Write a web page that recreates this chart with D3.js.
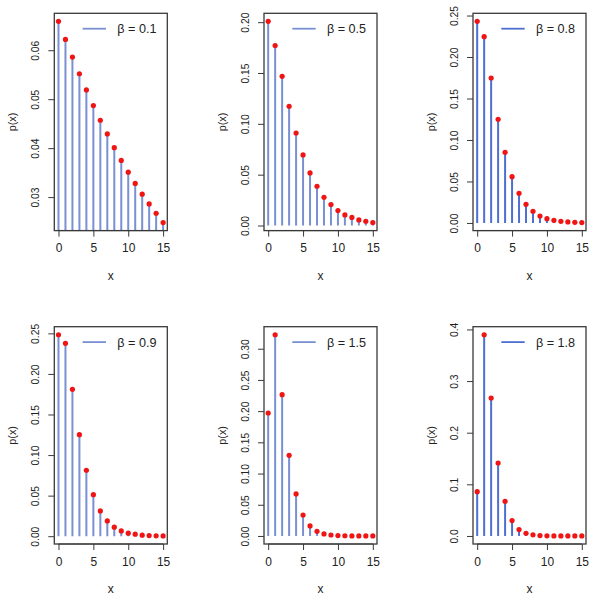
<!DOCTYPE html>
<html><head><meta charset="utf-8">
<script src="https://cdn.jsdelivr.net/npm/d3@7"></script>
<style>body{margin:0;background:#fff}svg{display:block}text{font-family:"Liberation Sans",Arial,Helvetica,sans-serif;fill:#222}</style>
</head><body>
<script>
const xValues = [0,1,2,3,4,5,6,7,8,9,10,11,12,13,14,15];
const xTicks = [0,5,10,15];
const betas = ["0.1","0.5","0.8","0.9","1.5","1.8"];
const p01 = [0.0659,0.0622,0.0586,0.0552,0.0519,0.0487,0.0457,0.0429,0.0401,0.0375,0.0351,0.0328,0.0306,0.0286,0.0267,0.0248];
const p05 = [0.2008,0.1770,0.1467,0.1172,0.0910,0.0694,0.0517,0.0386,0.0278,0.0206,0.0147,0.0104,0.0079,0.0055,0.0042,0.0029];
const p08 = [0.2430,0.2245,0.1747,0.1250,0.0852,0.0558,0.0358,0.0225,0.0141,0.0084,0.0052,0.0032,0.0020,0.0012,0.0008,0.0005];
const p09 = [0.2483,0.2377,0.1810,0.1251,0.0813,0.0512,0.0312,0.0188,0.0111,0.0065,0.0037,0.0025,0.0012,0.0008,0.0004,0.0003];
const p15 = [0.1970,0.3224,0.2263,0.1292,0.0673,0.0336,0.0160,0.0075,0.0032,0.0015,0.0006,0.0003,0.0001,0.00005,0.00002,0.00001];
const p18 = [0.0858,0.3897,0.2670,0.1413,0.0671,0.0297,0.0123,0.0052,0.0021,0.0008,0.0003,0.0001,0.00005,0.00002,0.00001,0.000005];
const yTicks1 = [0.03,0.04,0.05,0.06];
const yTicks2 = [0,0.05,0.10,0.15,0.20];
const yTicks3 = [0,0.05,0.10,0.15,0.20,0.25];
const yTicks4 = [0,0.05,0.10,0.15,0.20,0.25];
const yTicks5 = [0,0.05,0.10,0.15,0.20,0.25,0.30];
const yTicks6 = [0,0.1,0.2,0.3,0.4];
const yFormats = [".2f",".2f",".2f",".2f",".2f",".1f"];

const series = [p01,p05,p08,p09,p15,p18];
const tickSets = [yTicks1,yTicks2,yTicks3,yTicks4,yTicks5,yTicks6];
const stemColors = ["#7990d2","#7990d2","#4d6fd3","#7990d2","#7990d2","#4d6fd3"];

const W = 593, H = 600;
const svg = d3.select("body").append("svg").attr("width",W).attr("height",H);
const colLeft = [54.3,264,473];
const rowTop = [13.3,326.7];
const pw = 113, ph = 217.3;

series.forEach((vals,i)=>{
  const col = i%3, row = Math.floor(i/3);
  const L = colLeft[col], T = rowTop[row];
  const g = svg.append("g").attr("transform",`translate(${L},${T})`);
  const x = d3.scaleLinear().domain([-0.6,15.6]).range([0,pw]);
  const ext = d3.extent(vals), pad = (ext[1]-ext[0])*0.04;
  const y = d3.scaleLinear().domain([ext[0]-pad, ext[1]+pad]).range([ph,0]);
  const clipId = "clip"+i;
  g.append("clipPath").attr("id",clipId).append("rect").attr("width",pw).attr("height",ph);
  const plot = g.append("g").attr("clip-path",`url(#${clipId})`);
  plot.selectAll("line.stem").data(vals).join("line")
    .attr("x1",(d,j)=>x(xValues[j])).attr("x2",(d,j)=>x(xValues[j]))
    .attr("y1",y(0)).attr("y2",d=>y(d))
    .attr("stroke",stemColors[i]).attr("stroke-width",2);
  plot.selectAll("circle").data(vals).join("circle")
    .attr("cx",(d,j)=>x(xValues[j])).attr("cy",d=>y(d)).attr("r",2.6)
    .attr("fill","#f01515");
  // box
  g.append("rect").attr("width",pw).attr("height",ph).attr("fill","none")
    .attr("stroke","#3a3a3a").attr("stroke-width",1.3);
  // x axis
  const xa = g.append("g").attr("transform",`translate(0,${ph})`)
    .call(d3.axisBottom(x).tickValues(xTicks).tickSize(6).tickPadding(7).tickFormat(d3.format("d")));
  xa.select(".domain").attr("stroke","#3a3a3a").attr("d",`M${x(0)},0H${x(15)}`);
  xa.selectAll(".tick line").attr("stroke","#3a3a3a");
  xa.selectAll("text").attr("font-size",12).style("fill","#222").attr("font-family",null);
  // y axis
  const ya = g.append("g")
    .call(d3.axisLeft(y).tickValues(tickSets[i]).tickSize(6).tickFormat(d3.format(yFormats[i])));
  ya.select(".domain").remove();
  ya.selectAll(".tick line").attr("stroke","#3a3a3a");
  ya.selectAll("text").attr("font-size",10.3).attr("font-family",null).style("fill","#222")
    .attr("text-anchor","middle").attr("x",null).attr("dy",null)
    .attr("transform","translate(-15,0) rotate(-90)").attr("dominant-baseline","auto");
  // labels
  g.append("text").attr("x",pw/2).attr("y",ph+49).attr("text-anchor","middle")
    .attr("font-size",12).text("x");
  g.append("text").attr("transform",`translate(-38,${ph/2}) rotate(-90)`)
    .attr("text-anchor","middle").attr("font-size",10.8).text("p(x)");
  // legend
  g.append("line").attr("x1",28.3).attr("x2",51.7).attr("y1",15.4).attr("y2",15.4)
    .attr("stroke",stemColors[i]).attr("stroke-width",1.8);
  g.append("text").attr("x",63).attr("y",15.4).attr("dy","0.36em")
    .attr("font-size",12.6).text("β = "+betas[i]);
});
</script>
</body></html>
